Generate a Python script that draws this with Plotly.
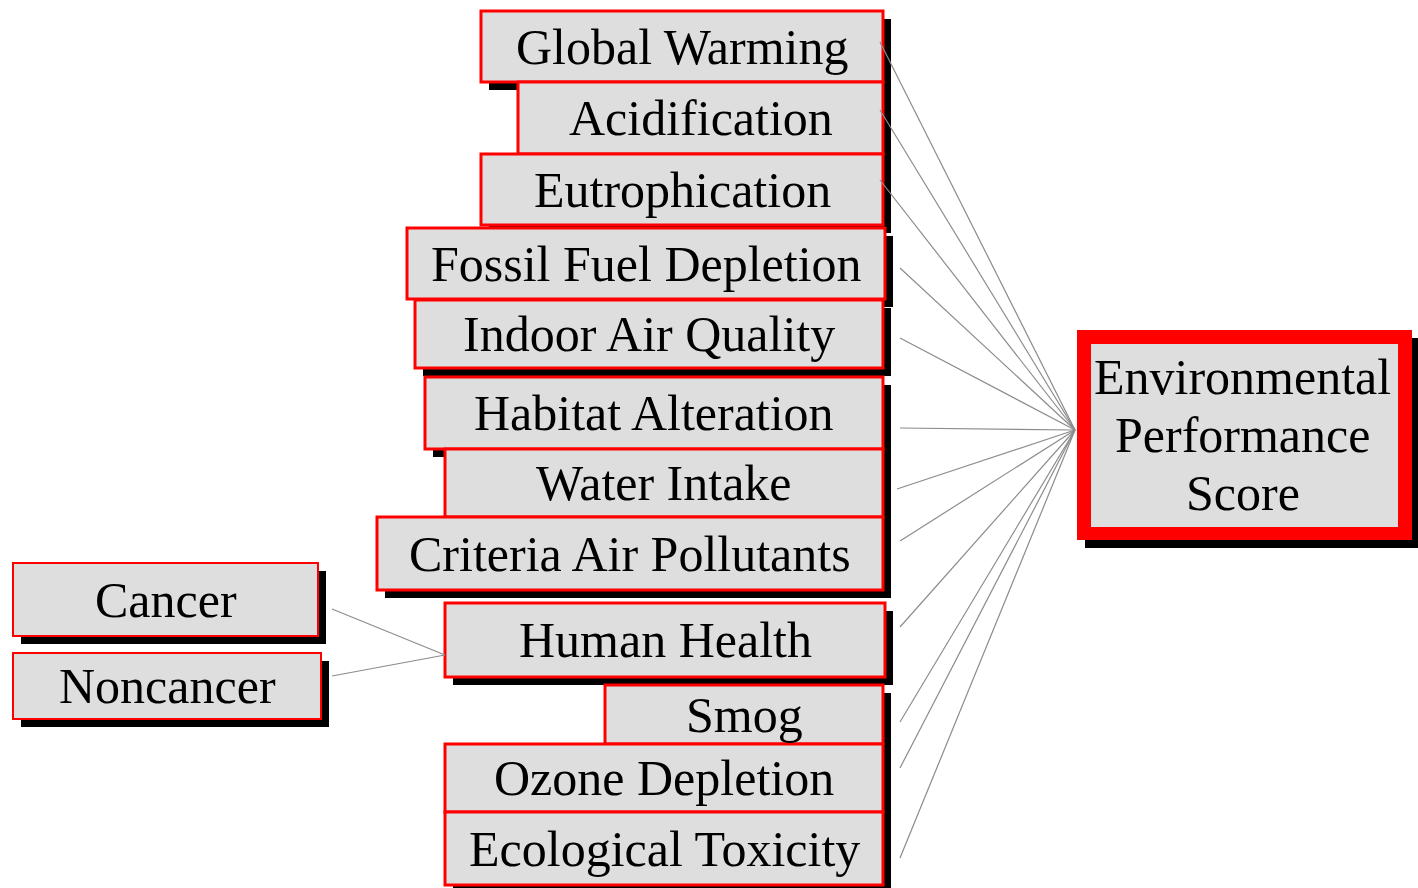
import plotly.graph_objects as go

# ---- content ----
indicator_labels = ["Global Warming", "Acidification", "Eutrophication",
                    "Fossil Fuel Depletion", "Indoor Air Quality",
                    "Habitat Alteration", "Water Intake",
                    "Criteria Air Pollutants", "Human Health", "Smog",
                    "Ozone Depletion", "Ecological Toxicity"]
sub_labels = ["Cancer", "Noncancer"]
target_lines = ["Environmental", "Performance", "Score"]

# ---- layout geometry (pixel space, y downward) ----
ind_left = [481, 518, 481, 407, 415, 425, 445, 377, 445, 605, 445, 445]
ind_top = [11, 82, 154, 228, 300, 377, 449, 517, 603, 685, 744, 812]
ind_bottom = [82, 154, 225, 299, 368, 449, 517, 590, 677, 744, 812, 885]
ind_right = [883, 883, 883, 885, 883, 883, 883, 883, 885, 883, 883, 883]
link_x0 = [880, 880, 880, 900, 900, 900, 897, 900, 900, 900, 900, 900]
link_y0 = [42, 110, 180, 268, 338, 428, 489, 541, 627, 722, 768, 858]

sub_box = [(13, 563, 318, 636), (13, 653, 321, 719)]
sub_link = [(332, 609), (332, 676)]
hub_sub = (445, 655)

target_box = (1077, 330, 1412, 540)
hub_target = (1075, 430)
target_line_gap = 58

W, H = 1418, 888
SH = 8
FILL = "#dedede"
RED = "#ff0000"
FONT = dict(family="'Times New Roman', 'Liberation Serif', 'DejaVu Serif', serif",
            size=50, color="black")

shapes = []
annotations = []

def shadow(x0, y0, x1, y1, d=SH):
    shapes.append(dict(type="rect", x0=x0 + d, y0=y0 + d, x1=x1 + d, y1=y1 + d,
                       fillcolor="black", line=dict(width=0), layer="above"))

def box(x0, y0, x1, y1, lw=3):
    shapes.append(dict(type="rect", x0=x0, y0=y0, x1=x1, y1=y1,
                       fillcolor=FILL, line=dict(color=RED, width=lw), layer="above"))

# shadows first
for i in range(len(indicator_labels)):
    shadow(ind_left[i], ind_top[i], ind_right[i], ind_bottom[i])
for (x0, y0, x1, y1) in sub_box:
    shadow(x0, y0, x1, y1)
tx0, ty0, tx1, ty1 = target_box
shadow(tx0, ty0, tx1, ty1)

# boxes
for i, lab in enumerate(indicator_labels):
    box(ind_left[i], ind_top[i], ind_right[i], ind_bottom[i])
    annotations.append(dict(x=(ind_left[i] + ind_right[i]) / 2,
                            y=(ind_top[i] + ind_bottom[i]) / 2,
                            text=lab, showarrow=False, font=FONT,
                            xanchor="center", yanchor="middle"))
for (x0, y0, x1, y1), lab in zip(sub_box, sub_labels):
    box(x0, y0, x1, y1, lw=2)
    annotations.append(dict(x=(x0 + x1) / 2, y=(y0 + y1) / 2, text=lab,
                            showarrow=False, font=FONT,
                            xanchor="center", yanchor="middle"))

# target box: thick red border
shapes.append(dict(type="rect", x0=tx0, y0=ty0, x1=tx1, y1=ty1,
                   fillcolor=RED, line=dict(width=0), layer="above"))
shapes.append(dict(type="rect", x0=tx0 + 14, y0=ty0 + 14, x1=tx1 - 14, y1=ty1 - 13,
                   fillcolor=FILL, line=dict(width=0), layer="above"))
cy = (ty0 + ty1) / 2
n = len(target_lines)
for k, ln in enumerate(target_lines):
    annotations.append(dict(x=(tx0 + tx1) / 2 - 2,
                            y=cy + (k - (n - 1) / 2) * target_line_gap,
                            text=ln, showarrow=False, font=FONT,
                            xanchor="center", yanchor="middle"))

# connectors
LINE = dict(color="#8c8c8c", width=1.2)
for x0, y0 in zip(link_x0, link_y0):
    shapes.append(dict(type="line", x0=x0, y0=y0, x1=hub_target[0], y1=hub_target[1],
                       line=LINE, layer="above"))
for (x0, y0) in sub_link:
    shapes.append(dict(type="line", x0=x0, y0=y0, x1=hub_sub[0], y1=hub_sub[1],
                       line=LINE, layer="above"))

fig = go.Figure()
fig.add_trace(go.Scatter(x=[0, W], y=[0, H], mode="markers",
                         marker=dict(opacity=0), hoverinfo="skip", showlegend=False))
fig.update_layout(
    width=W, height=H, margin=dict(l=0, r=0, t=0, b=0),
    paper_bgcolor="white", plot_bgcolor="white",
    xaxis=dict(range=[0, W], visible=False, fixedrange=True),
    yaxis=dict(range=[H, 0], visible=False, fixedrange=True),
    shapes=shapes, annotations=annotations, showlegend=False,
)
fig.write_html("out.html", config=dict(displayModeBar=False),
               post_script="document.body.style.margin='0';document.body.style.overflow='hidden';")
